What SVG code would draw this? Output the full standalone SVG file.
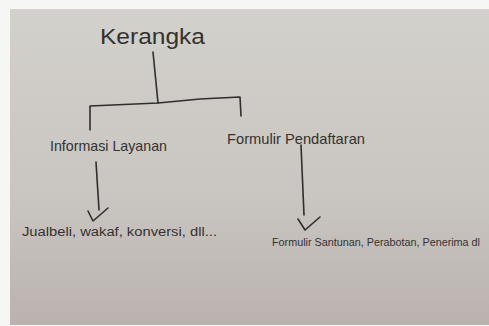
<svg xmlns="http://www.w3.org/2000/svg" width="489" height="326" viewBox="0 0 489 326">
<style>
.ink{fill:#333230;font-family:"Liberation Sans","DejaVu Sans",sans-serif;}
.ln{fill:none;stroke:#2f2e2c;stroke-width:1.6;stroke-linecap:round;stroke-linejoin:round;}
</style>
<defs>
<linearGradient id="paper" x1="0" y1="0" x2="0" y2="1">
<stop offset="0" stop-color="#d3d1cc"/>
<stop offset="0.6" stop-color="#c9c5c0"/>
<stop offset="1" stop-color="#bab2ae"/>
</linearGradient>
</defs>
<rect x="0" y="0" width="489" height="326" fill="#f6f6f5"/>
<rect x="10" y="9" width="479" height="316" fill="url(#paper)"/>
<g id="connectors">
<path class="ln" d="M153,52 L158,103"/>
<path class="ln" d="M90,130 L90,106 L158,103 L200,99 L240,97 L241,116"/>
<path class="ln" d="M96,162 L99,210"/>
<path class="ln" d="M88,211 L93,221 L108,208"/>
<path class="ln" d="M301,145 L304,215"/>
<path class="ln" d="M298,219 L305,230 L320,217"/>
</g>
<g id="node-kerangka">
<text class="ink" x="100" y="44" font-size="22" textLength="105" lengthAdjust="spacingAndGlyphs">Kerangka</text>
</g>
<g id="node-informasi">
<text class="ink" x="50" y="151" font-size="15" textLength="117" lengthAdjust="spacingAndGlyphs">Informasi Layanan</text>
</g>
<g id="node-formulir">
<text class="ink" x="227" y="144" font-size="15" textLength="138" lengthAdjust="spacingAndGlyphs">Formulir Pendaftaran</text>
</g>
<g id="node-jualbeli">
<text class="ink" x="22" y="236" font-size="12" textLength="195" lengthAdjust="spacingAndGlyphs">Jualbeli, wakaf, konversi, dll...</text>
</g>
<g id="node-santunan">
<text class="ink" x="272" y="246" font-size="10.5" textLength="208" lengthAdjust="spacingAndGlyphs">Formulir Santunan, Perabotan, Penerima dl</text>
</g>
</svg>
